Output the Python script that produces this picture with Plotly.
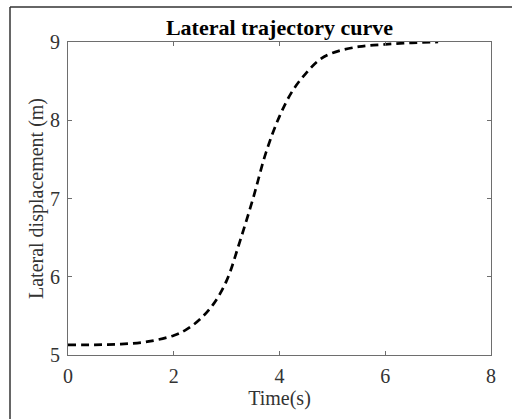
import plotly.graph_objects as go

time_s = [0, 0.5, 1.0, 1.5, 2.0, 2.25, 2.5, 2.75, 3.0, 3.25, 3.5, 3.75, 4.0, 4.25, 4.5, 4.75, 5.0, 5.5, 6.0, 6.5, 7.0]
lateral_m = [5.13, 5.13, 5.14, 5.17, 5.25, 5.33, 5.46, 5.65, 5.95, 6.45, 7.0, 7.6, 8.05, 8.38, 8.6, 8.77, 8.86, 8.94, 8.97, 8.99, 9.0]
x_ticks = [0, 2, 4, 6, 8]
y_ticks = [5, 6, 7, 8, 9]

W, H = 512, 419
L, R, T, B = 68, 21, 42, 64
pw, ph = W - L - R, H - T - B

font = "Liberation Serif"
fig = go.Figure()
fig.add_trace(go.Scatter(x=time_s, y=lateral_m, mode="lines",
                         line=dict(color="black", width=2.7, dash="8px,5px", shape="spline"),
                         showlegend=False))

axis_common = dict(showline=True, linecolor="#6e6e6e", linewidth=1, mirror="allticks",
                   ticks="inside", ticklen=4, tickcolor="#6e6e6e", showgrid=False, zeroline=False,
                   automargin=False,
                   tickfont=dict(family=font, size=20, color="#333333"))
fig.update_xaxes(range=[0, 8], tickvals=x_ticks, ticklabelstandoff=3, **axis_common,
                 title=dict(text="Time(s)", font=dict(family=font, size=20, color="#333333"), standoff=4))
fig.update_yaxes(range=[5, 9], tickvals=y_ticks, ticklabelstandoff=3, **axis_common,
                 title=dict(text="Lateral displacement (m)", font=dict(family=font, size=20, color="#333333"), standoff=1))

# outer figure frame (top and left edges visible)
fx = (10 - L) / pw
fy = 1 + (T - 7) / ph
fig.add_shape(type="line", xref="paper", yref="paper", x0=fx, y0=fy, x1=(W - L + 10) / pw, y1=fy,
              line=dict(color="#333333", width=1.5))
fig.add_shape(type="line", xref="paper", yref="paper", x0=fx, y0=fy, x1=fx, y1=-(B + 10) / ph,
              line=dict(color="#333333", width=1.5))

fig.update_layout(
    width=W, height=H,
    margin=dict(l=L, r=R, t=T, b=B, autoexpand=False),
    paper_bgcolor="white", plot_bgcolor="white",
    title=dict(text="<b>Lateral trajectory curve</b>", x=(L + pw / 2) / W, xanchor="center",
               y=1 - 27 / H, yanchor="middle",
               font=dict(family=font, size=22, color="black")),
)
fig.write_html("out.html", config={"displayModeBar": False},
               post_script="document.body.style.margin='0';document.body.style.overflow='hidden';")
